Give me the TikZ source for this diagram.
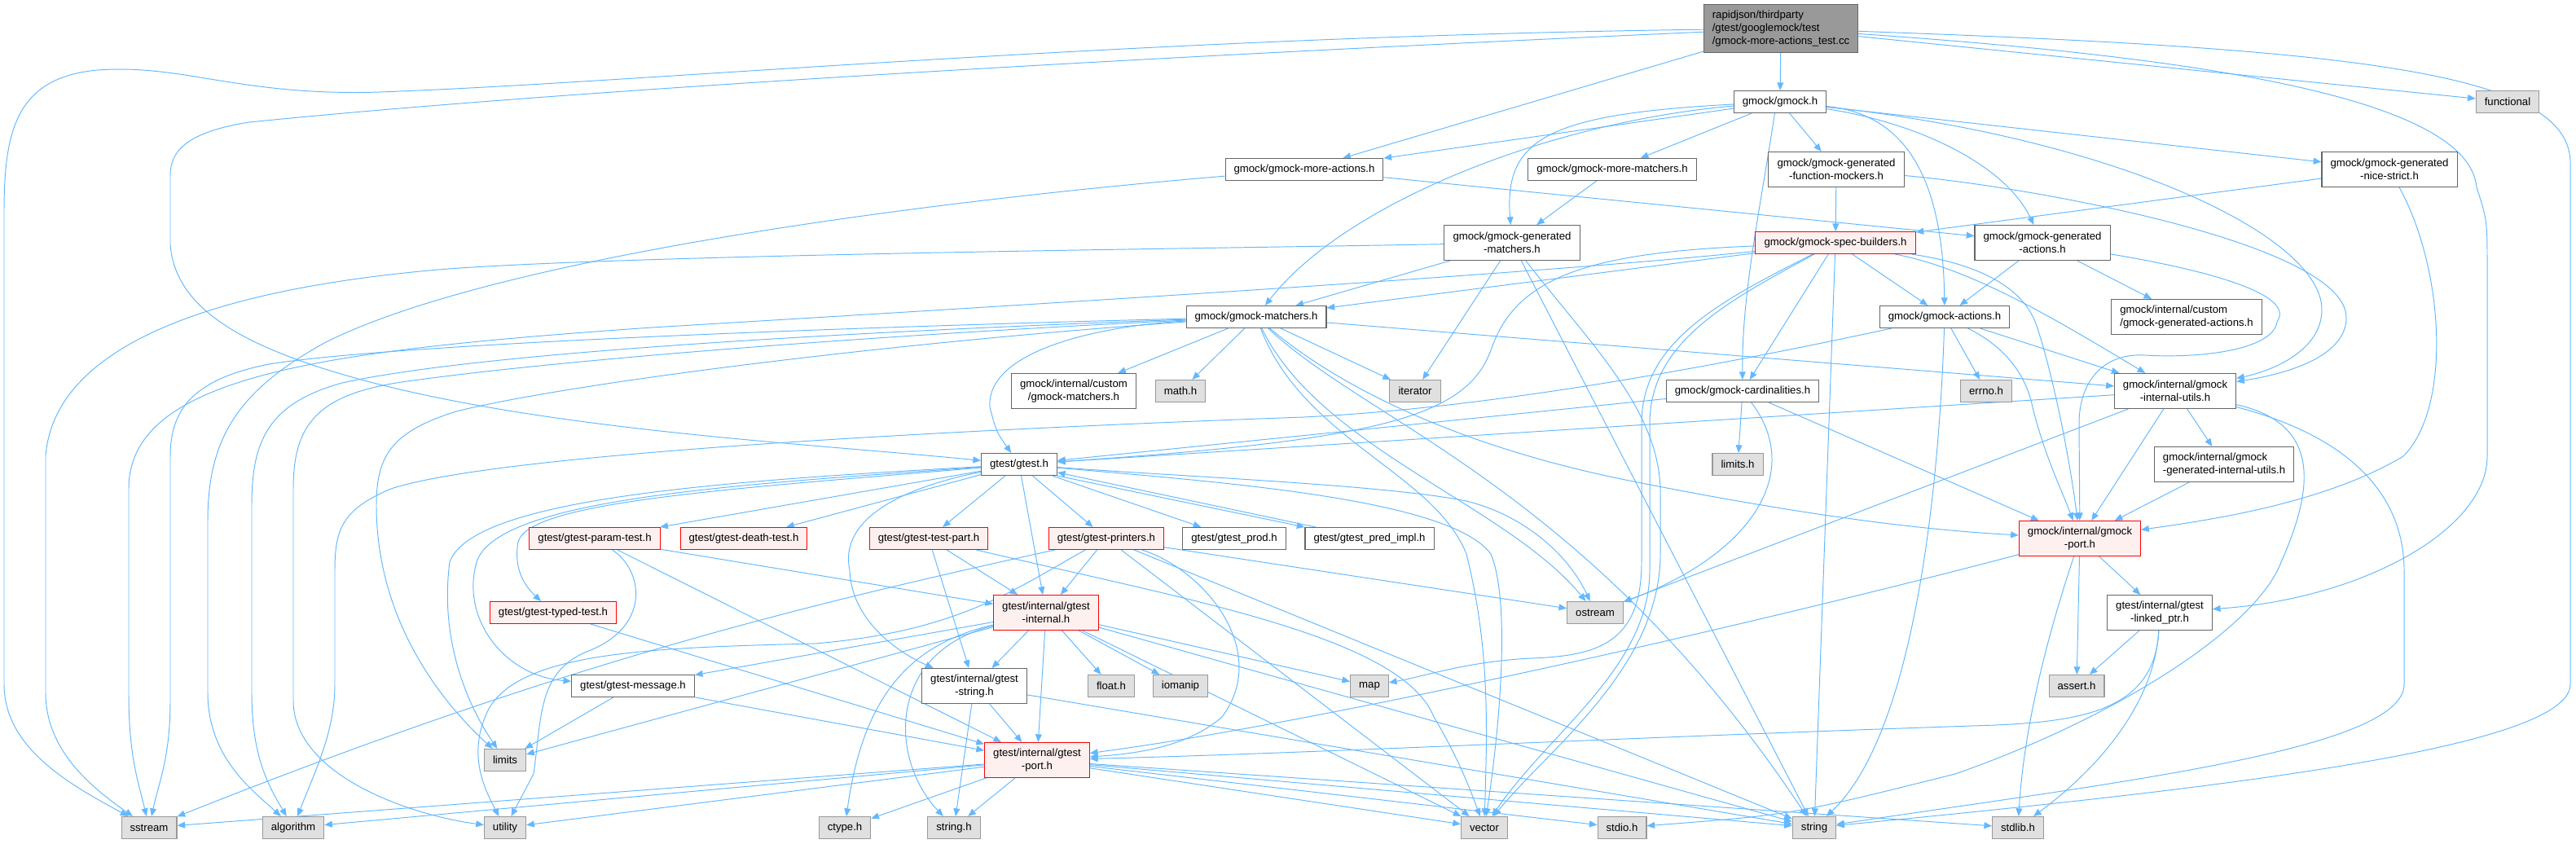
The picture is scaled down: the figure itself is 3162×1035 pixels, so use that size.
\documentclass[tikz,border=0pt]{standalone}
\usepackage{fontspec}
\setmainfont{Liberation Sans}
\usetikzlibrary{arrows.meta,backgrounds}
\definecolor{incl}{HTML}{63B8FF}
\definecolor{hdrline}{HTML}{666666}
\definecolor{sysline}{HTML}{999999}
\definecolor{sysfill}{HTML}{E0E0E0}
\definecolor{cutline}{HTML}{FF0000}
\definecolor{cutfill}{HTML}{FFF0F0}
\definecolor{rootfill}{HTML}{999999}

\begin{document}
\begin{tikzpicture}[
  x=0.02cm, y=-0.02cm,
  font=\fontsize{7.5}{9.1}\selectfont,
  hdr/.style ={draw=hdrline, fill=white, line width=0.6pt, inner xsep=6pt, inner ysep=2pt,
               minimum height=0.54cm, align=center},
  sys/.style ={hdr, draw=sysline, fill=sysfill},
  cut/.style ={hdr, draw=cutline, fill=cutfill},
  tall/.style={minimum height=0.86cm},
  ar/.style  ={-{Triangle[length=5.5pt,width=4.5pt]}, incl, line width=0.55pt}
]
\useasboundingbox (0,0) rectangle (3162,1035);

% ---------- gmock side ----------
\node[hdr, fill=rootfill, align=left, minimum height=1.18cm] (root) at (2186,35)
  {rapidjson/thirdparty\\/gtest/googlemock/test\\/gmock-more-actions\_test.cc};
\node[hdr] (gmock)      at (2185,125) {gmock/gmock.h};
\node[sys] (functional) at (3078,125) {functional};
\node[hdr] (moreact)    at (1601,208) {gmock/gmock-more-actions.h};
\node[hdr] (morematch)  at (1979,208) {gmock/gmock-more-matchers.h};
\node[hdr, tall] (funcmock)   at (2254,208) {gmock/gmock-generated\\-function-mockers.h};
\node[hdr, tall] (nicestrict) at (2933,208) {gmock/gmock-generated\\-nice-strict.h};
\node[hdr, tall] (genmatch)   at (1856,298) {gmock/gmock-generated\\-matchers.h};
\node[cut] (specb)      at (2253,298) {gmock/gmock-spec-builders.h};
\node[hdr, tall] (genact)     at (2507,298) {gmock/gmock-generated\\-actions.h};
\node[hdr] (matchers)   at (1542,389) {gmock/gmock-matchers.h};
\node[hdr] (actions)    at (2387,389) {gmock/gmock-actions.h};
\node[hdr, tall, align=left] (custact) at (2684,389) {gmock/internal/custom\\/gmock-generated-actions.h};
\node[hdr, tall] (custmatch)  at (1318,480) {gmock/internal/custom\\/gmock-matchers.h};
\node[sys] (mathh)      at (1449,480) {math.h};
\node[sys] (iterator)   at (1737,480) {iterator};
\node[hdr] (card)       at (2139,480) {gmock/gmock-cardinalities.h};
\node[sys] (errno)      at (2438,480) {errno.h};
\node[hdr, tall] (iutils)     at (2670,480) {gmock/internal/gmock\\-internal-utils.h};
\node[sys] (limitsh)    at (2133,570) {limits.h};
\node[hdr, tall, align=left] (geniutils) at (2730,570) {gmock/internal/gmock\\-generated-internal-utils.h};
\node[cut, tall] (gport)      at (2553,661) {gmock/internal/gmock\\-port.h};
\node[hdr, tall] (linked)     at (2651,752) {gtest/internal/gtest\\-linked\_ptr.h};
\node[sys] (asserth)    at (2549,842) {assert.h};

% ---------- gtest side ----------
\node[hdr] (gtest)      at (1251,570) {gtest/gtest.h};
\node[cut] (paramt)     at (730,661)  {gtest/gtest-param-test.h};
\node[cut] (deatht)     at (913,661)  {gtest/gtest-death-test.h};
\node[cut] (testpart)   at (1140,661) {gtest/gtest-test-part.h};
\node[cut] (printers)   at (1358,661) {gtest/gtest-printers.h};
\node[hdr] (prod)       at (1515,661) {gtest/gtest\_prod.h};
\node[hdr] (predimpl)   at (1681,661) {gtest/gtest\_pred\_impl.h};
\node[cut] (typedt)     at (679,752)  {gtest/gtest-typed-test.h};
\node[cut, tall] (ginternal)  at (1284,752) {gtest/internal/gtest\\-internal.h};
\node[sys] (ostream)    at (1958,752) {ostream};
\node[hdr] (message)    at (777,842)  {gtest/gtest-message.h};
\node[hdr, tall] (gstring)    at (1196,842) {gtest/internal/gtest\\-string.h};
\node[sys] (floath)     at (1364,842) {float.h};
\node[sys] (iomanip)    at (1449,842) {iomanip};
\node[sys] (map)        at (1681,842) {map};
\node[sys] (limits)     at (620,933)  {limits};
\node[cut, tall] (tport)      at (1273,933) {gtest/internal/gtest\\-port.h};

% ---------- system headers ----------
\node[sys] (sstream)    at (183,1016)  {sstream};
\node[sys] (algorithm)  at (360,1016)  {algorithm};
\node[sys] (utility)    at (620,1016)  {utility};
\node[sys] (ctype)      at (1037,1016) {ctype.h};
\node[sys] (stringh)    at (1171,1016) {string.h};
\node[sys] (vector)     at (1822,1016) {vector};
\node[sys] (stdio)      at (1991,1016) {stdio.h};
\node[sys] (string)     at (2227,1016) {string};
\node[sys] (stdlib)     at (2477,1016) {stdlib.h};

\begin{scope}[on background layer]
% ---------- test file ----------
\draw[ar] (root) .. controls (1400,45) and (800,100) .. (490,112)
  .. controls (300,122) and (230,78) .. (120,86)
  .. controls (20,95) and (5,160) .. (5,260) -- (5,840)
  .. controls (5,920) and (90,965) .. (sstream);
\draw[ar] (root) .. controls (1400,70) and (700,110) .. (306,150)
  .. controls (230,162) and (209,185) .. (209,215) -- (209,300)
  .. controls (215,380) and (300,430) .. (470,473)
  .. controls (700,530) and (1000,545) .. (gtest);
\draw[ar] (root) -- (moreact);
\draw[ar] (root) -- (gmock);
\draw[ar] (root) -- (functional);
\draw[ar] (root) .. controls (2700,70) and (3030,120) .. (3040,230)
  .. controls (3053,270) .. (3053,330) -- (3053,560)
  .. controls (3053,650) and (2900,735) .. (linked);
\draw[ar] (root) .. controls (2900,60) and (3155,90) .. (3155,200) -- (3155,840)
  .. controls (3155,920) and (2700,970) .. (string);

% ---------- gmock/gmock.h ----------
\draw[ar] (gmock) -- (moreact);
\draw[ar] (gmock) .. controls (1900,140) and (1846,170) .. (genmatch);
\draw[ar] (gmock) .. controls (1900,150) and (1650,250) .. (matchers);
\draw[ar] (gmock) -- (morematch);
\draw[ar] (gmock) -- (funcmock);
\draw[ar] (gmock.-115) .. controls (2160,260) and (2138,360) .. (card);
\draw[ar] (gmock) -- (nicestrict);
\draw[ar] (gmock) .. controls (2350,150) and (2460,200) .. (genact);
\draw[ar] (gmock) .. controls (2340,140) and (2385,220) .. (actions);
\draw[ar] (gmock) .. controls (2600,170) and (2850,290) .. (2850,380)
  .. controls (2850,430) and (2790,455) .. (iutils);

% ---------- second row ----------
\draw[ar] (moreact) -- (genact);
\draw[ar] (moreact) .. controls (1100,250) and (600,320) .. (400,420)
  .. controls (290,480) and (255,540) .. (255,640) -- (255,850)
  .. controls (255,930) and (310,970) .. (algorithm);
\draw[ar] (morematch) -- (genmatch);
\draw[ar] (funcmock) -- (specb);
\draw[ar] (funcmock) .. controls (2500,230) and (2880,300) .. (2880,390)
  .. controls (2880,440) and (2800,460) .. (iutils);
\draw[ar] (nicestrict) -- (specb);
\draw[ar] (nicestrict) .. controls (3000,330) and (3010,500) .. (2950,560)
  .. controls (2850,620) and (2700,640) .. (gport);

% ---------- gmock-generated-matchers.h ----------
\draw[ar] (genmatch) .. controls (1500,305) and (800,312) .. (550,330)
  .. controls (245,355) and (66,430) .. (56,560) -- (56,850)
  .. controls (56,920) and (110,965) .. (sstream);
\draw[ar] (genmatch) -- (matchers);
\draw[ar] (genmatch) -- (iterator);
\draw[ar] (genmatch) .. controls (1950,420) and (2035,500) .. (2038,600) -- (2038,680)
  .. controls (2038,820) and (1900,920) .. (vector);
\draw[ar] (genmatch) -- (string);

% ---------- gmock-spec-builders.h ----------
\draw[ar] (specb) -- (matchers);
\draw[ar] (specb) -- (actions);
\draw[ar] (specb) -- (card);
\draw[ar] (specb) .. controls (2420,330) and (2520,390) .. (iutils);
\draw[ar] (specb) .. controls (2400,320) and (2480,340) .. (2500,400)
  .. controls (2520,460) and (2540,560) .. (gport);
\draw[ar] (specb) .. controls (1950,310) and (1860,340) .. (1830,430)
  .. controls (1800,510) and (1700,540) .. (gtest);
\draw[ar] (specb) .. controls (2110,370) and (2015,420) .. (2015,520) -- (2015,690)
  .. controls (2015,790) and (1960,805) .. (1880,808)
  .. controls (1800,812) and (1750,830) .. (map);
\draw[ar] (specb) .. controls (1950,330) and (1500,360) .. (800,402)
  .. controls (400,430) and (158,460) .. (158,600) -- (158,850)
  .. controls (158,930) and (170,960) .. (sstream);
\draw[ar] (specb) -- (string);
\draw[ar] (specb) .. controls (2120,370) and (2025,420) .. (2025,520) -- (2025,700)
  .. controls (2025,820) and (1900,900) .. (vector);

% ---------- gmock-generated-actions.h ----------
\draw[ar] (genact) -- (actions);
\draw[ar] (genact) -- (custact);
\draw[ar] (genact) .. controls (2700,330) and (2820,360) .. (2795,395)
  .. controls (2790,430) and (2700,440) .. (2633,436)
  .. controls (2580,433) and (2552,470) .. (2552,520) -- (gport);

% ---------- gmock-matchers.h ----------
\draw[ar] (matchers) -- (mathh);
\draw[ar] (matchers) -- (iterator);
\draw[ar] (matchers) -- (custmatch);
\draw[ar] (matchers) .. controls (1350,400) and (1210,430) .. (1215,500)
  .. controls (1223,530) .. (gtest);
\draw[ar] (matchers) -- (iutils);
\draw[ar] (matchers) .. controls (1650,480) and (1800,550) .. (2000,590)
  .. controls (2200,630) and (2350,650) .. (gport);
\draw[ar] (matchers) .. controls (1620,550) and (1850,620) .. (ostream);
\draw[ar] (matchers) .. controls (1600,540) and (1760,580) .. (1800,680)
  .. controls (1830,800) and (1825,900) .. (vector);
\draw[ar] (matchers) .. controls (1680,520) and (1950,600) .. (string);
\draw[ar] (matchers) .. controls (1100,400) and (500,420) .. (330,447)
  .. controls (240,465) and (209,500) .. (209,560) -- (209,860)
  .. controls (209,930) and (195,960) .. (sstream);
\draw[ar] (matchers) .. controls (1100,405) and (600,430) .. (420,470)
  .. controls (330,495) and (309,540) .. (309,620) -- (309,850)
  .. controls (309,930) and (330,965) .. (algorithm);
\draw[ar] (matchers) .. controls (1100,410) and (700,440) .. (500,468)
  .. controls (390,483) and (360,520) .. (360,600) -- (360,860)
  .. controls (360,950) and (500,1000) .. (utility);
\draw[ar] (matchers) .. controls (1100,420) and (700,470) .. (560,505)
  .. controls (480,530) and (462,560) .. (462,620)
  .. controls (462,760) and (540,860) .. (limits);

% ---------- gmock-actions.h ----------
\draw[ar] (actions) -- (errno);
\draw[ar] (actions) -- (iutils);
\draw[ar] (actions) .. controls (2450,420) and (2485,450) .. (2495,500)
  .. controls (2510,560) and (2530,600) .. (gport);
\draw[ar] (actions) .. controls (2380,600) and (2350,900) .. (string);
\draw[ar] (actions) .. controls (2150,440) and (1850,500) .. (1600,512)
  .. controls (1100,530) and (600,560) .. (480,600)
  .. controls (420,625) and (411,650) .. (411,700) -- (411,840)
  .. controls (411,900) and (385,950) .. (algorithm);

% ---------- gmock-cardinalities.h ----------
\draw[ar] (card) -- (limitsh);
\draw[ar] (card) .. controls (2215,580) and (2150,680) .. (ostream);
\draw[ar] (card) -- (gtest);
\draw[ar] (card) -- (gport);

% ---------- gmock-internal-utils.h ----------
\draw[ar] (iutils) -- (gtest);
\draw[ar] (iutils) -- (ostream);
\draw[ar] (iutils) -- (gport);
\draw[ar] (iutils) -- (geniutils);
\draw[ar] (iutils) .. controls (2900,540) and (2951,620) .. (2951,700) -- (2951,840)
  .. controls (2951,920) and (2600,960) .. (string);
\draw[ar] (iutils) .. controls (2850,520) and (2840,600) .. (2800,690)
  .. controls (2770,770) and (2600,880) .. (2400,950)
  .. controls (2200,1000) .. (stdio);
\draw[ar] (geniutils) -- (gport);

% ---------- gmock-port.h, linked_ptr ----------
\draw[ar] (gport) -- (asserth);
\draw[ar] (gport) .. controls (2520,760) and (2485,880) .. (stdlib);
\draw[ar] (gport) -- (linked);
\draw[ar] (gport) .. controls (2100,780) and (1600,890) .. (tport);
\draw[ar] (linked) -- (asserth);
\draw[ar] (linked) .. controls (2645,860) and (2580,940) .. (stdlib);
\draw[ar] (linked) .. controls (2645,870) and (2560,885) .. (2450,890)
  .. controls (2000,905) and (1600,925) .. (tport);

% ---------- gtest/gtest.h ----------
\draw[ar] (gtest) -- (paramt);
\draw[ar] (gtest) -- (deatht);
\draw[ar] (gtest) -- (testpart);
\draw[ar] (gtest) -- (printers);
\draw[ar] (gtest) -- (prod);
\draw[ar] (gtest.south east) -- (predimpl.north west);
\draw[ar] (gtest) -- (ginternal);
\draw[ar] (gtest) .. controls (900,600) and (650,615) .. (636,665)
  .. controls (630,700) and (645,720) .. (typedt);
\draw[ar] (gtest) .. controls (900,595) and (610,612) .. (585,690)
  .. controls (565,760) and (620,830) .. (message);
\draw[ar] (gtest) .. controls (900,590) and (580,610) .. (552,690)
  .. controls (540,780) and (570,860) .. (limits);
\draw[ar] (gtest) .. controls (1100,600) and (1030,640) .. (1043,700)
  .. controls (1045,760) and (1100,800) .. (gstring);
\draw[ar] (gtest) .. controls (1450,585) and (1700,595) .. (1800,615)
  .. controls (1880,635) and (1930,690) .. (ostream);
\draw[ar] (gtest) .. controls (1500,592) and (1780,612) .. (1830,680)
  .. controls (1855,740) and (1840,900) .. (vector);
\draw[ar] (predimpl) -- (gtest);

% ---------- gtest headers ----------
\draw[ar] (paramt) .. controls (790,700) and (800,770) .. (720,800)
  .. controls (660,825) and (665,880) .. (655,950) -- (utility);
\draw[ar] (paramt) -- (ginternal);
\draw[ar] (paramt) -- (tport);
\draw[ar] (testpart) -- (ginternal);
\draw[ar] (testpart) -- (gstring);
\draw[ar] (testpart) .. controls (1450,735) and (1720,780) .. (1760,880)
  .. controls (1790,930) and (1805,970) .. (vector);
\draw[ar] (printers) -- (ginternal);
\draw[ar] (printers) -- (ostream);
\draw[ar] (printers) .. controls (1000,740) and (700,810) .. (sstream);
\draw[ar] (printers) -- (string);
\draw[ar] (printers) .. controls (1250,720) and (1180,775) .. (1000,790)
  .. controls (800,795) and (640,800) .. (600,870)
  .. controls (575,920) and (590,960) .. (utility);
\draw[ar] (printers) -- (vector);
\draw[ar] (printers) .. controls (1480,700) and (1560,800) .. (1500,880)
  .. controls (1460,915) and (1400,925) .. (tport);
\draw[ar] (typedt) -- (tport);
\draw[ar] (message) -- (limits);
\draw[ar] (message) -- (tport);

% ---------- gtest-internal.h ----------
\draw[ar] (ginternal) -- (message);
\draw[ar] (ginternal) -- (limits);
\draw[ar] (ginternal) -- (gstring);
\draw[ar] (ginternal) -- (floath);
\draw[ar] (ginternal) -- (iomanip);
\draw[ar] (ginternal) -- (map);
\draw[ar] (ginternal) -- (tport);
\draw[ar] (ginternal) .. controls (1120,790) and (1060,850) .. (ctype);
\draw[ar] (ginternal) .. controls (1090,800) and (1090,930) .. (stringh);
\draw[ar] (ginternal) -- (vector);
\draw[ar] (ginternal) -- (string);

% ---------- gtest-string.h ----------
\draw[ar] (gstring) -- (stringh);
\draw[ar] (gstring) -- (string);
\draw[ar] (gstring) -- (tport);

% ---------- gtest-port.h ----------
\draw[ar] (tport) -- (sstream);
\draw[ar] (tport) -- (algorithm);
\draw[ar] (tport) -- (utility);
\draw[ar] (tport) -- (ctype);
\draw[ar] (tport) -- (stringh);
\draw[ar] (tport) -- (vector);
\draw[ar] (tport) -- (stdio);
\draw[ar] (tport) -- (string);
\draw[ar] (tport) -- (stdlib);
\end{scope}
\end{tikzpicture}
\end{document}
